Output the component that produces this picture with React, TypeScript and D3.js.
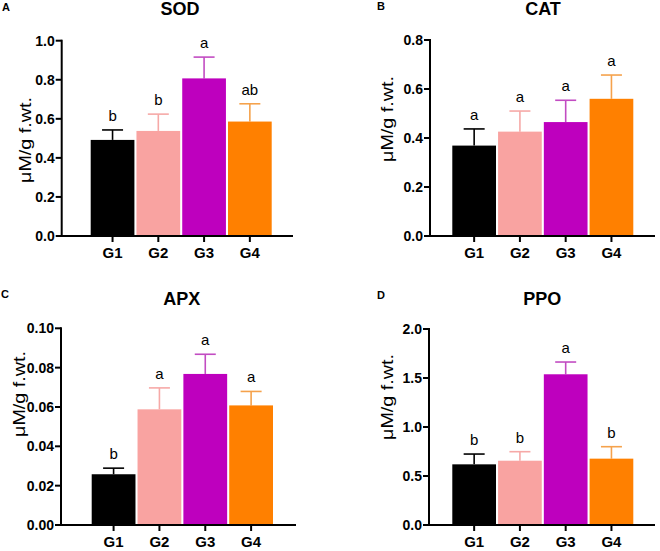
import React from "react";
import * as d3 from "d3";

const groups = ["G1", "G2", "G3", "G4"];
const colors = ["#000000", "#F9A3A1", "#BE00BE", "#FF8000"];
const errColors = ["#000000", "#F6A9A7", "#C24CC2", "#F5A24C"];

const sodMean = [0.492, 0.538, 0.807, 0.586];
const sodErr = [0.543, 0.624, 0.916, 0.677];
const sodLetters = ["b", "b", "a", "ab"];
const sodTicks = [0, 0.2, 0.4, 0.6, 0.8, 1.0];

const catMean = [0.369, 0.426, 0.465, 0.56];
const catErr = [0.437, 0.51, 0.554, 0.657];
const catLetters = ["a", "a", "a", "a"];
const catTicks = [0, 0.2, 0.4, 0.6, 0.8];

const apxMean = [0.0258, 0.0588, 0.0768, 0.0608];
const apxErr = [0.0289, 0.0697, 0.0868, 0.0679];
const apxLetters = ["b", "a", "a", "a"];
const apxTicks = [0, 0.02, 0.04, 0.06, 0.08, 0.1];

const ppoMean = [0.619, 0.656, 1.538, 0.677];
const ppoErr = [0.724, 0.748, 1.663, 0.799];
const ppoLetters = ["b", "b", "a", "b"];
const ppoTicks = [0, 0.5, 1.0, 1.5, 2.0];

const yLabel = "μM/g f.wt.";
const FONT = "'Liberation Sans', Arial, Helvetica, sans-serif";

type PanelProps = {
  tag: string;
  tagX: number;
  tagY: number;
  title: string;
  titleX: number;
  titleY: number;
  axisX: number;
  axisEnd: number;
  y0: number;
  yTop: number;
  max: number;
  ticks: number[];
  fmt: string;
  barRange: [number, number];
  mean: number[];
  err: number[];
  letters: string[];
  labelX: number;
  labelY: number;
};

function Panel(p: PanelProps) {
  const y = d3.scaleLinear().domain([0, p.max]).range([p.y0, p.yTop]);
  const x = d3.scaleBand<string>().domain(groups).range(p.barRange).paddingInner(0.045).paddingOuter(0);
  const f = d3.format(p.fmt);
  const bw = x.bandwidth();
  return (
    <g>
      <text x={p.tagX} y={p.tagY} fontFamily={FONT} fontWeight="bold" fontSize={11}>{p.tag}</text>
      <text x={p.titleX} y={p.titleY} textAnchor="middle" fontFamily={FONT} fontWeight="bold" fontSize={18}>{p.title}</text>
      <text
        transform={`translate(${p.labelX},${p.labelY}) rotate(-90)`}
        textAnchor="middle"
        dominantBaseline="central"
        fontFamily={FONT}
        fontSize={16}
        textLength={86}
        lengthAdjust="spacingAndGlyphs"
      >{yLabel}</text>
      {groups.map((g, i) => (
        <g key={g}>
          <line x1={x(g)! + bw / 2} x2={x(g)! + bw / 2} y1={y(p.mean[i])} y2={y(p.err[i])} stroke={errColors[i]} strokeWidth={1.6} />
          <line x1={x(g)! + bw / 2 - 10.5} x2={x(g)! + bw / 2 + 10.5} y1={y(p.err[i])} y2={y(p.err[i])} stroke={errColors[i]} strokeWidth={1.6} />
          <rect x={x(g)!} y={y(p.mean[i])} width={bw} height={p.y0 - y(p.mean[i])} fill={colors[i]} />
          <text x={x(g)! + bw / 2} y={y(p.err[i]) - 9} textAnchor="middle" fontFamily={FONT} fontSize={15}>{p.letters[i]}</text>
          <line x1={x(g)! + bw / 2} x2={x(g)! + bw / 2} y1={p.y0} y2={p.y0 + 6} stroke="#000" strokeWidth={2} />
          <text x={x(g)! + bw / 2} y={p.y0 + 22} textAnchor="middle" fontFamily={FONT} fontWeight="bold" fontSize={15}>{g}</text>
        </g>
      ))}
      {p.ticks.map((t) => (
        <g key={t}>
          <line x1={p.axisX - 6} x2={p.axisX} y1={y(t)} y2={y(t)} stroke="#000" strokeWidth={2} />
          <text x={p.axisX - 7} y={y(t)} textAnchor="end" dominantBaseline="central" fontFamily={FONT} fontWeight="bold" fontSize={14}>{f(t)}</text>
        </g>
      ))}
      <line x1={p.axisX} x2={p.axisX} y1={p.yTop - 1} y2={p.y0 + 1} stroke="#000" strokeWidth={2} />
      <line x1={p.axisX - 1} x2={p.axisEnd} y1={p.y0} y2={p.y0} stroke="#000" strokeWidth={2} />
    </g>
  );
}

export default function App() {
  return (
    <svg width={660} height={551} style={{ position: "absolute", left: 0, top: 0, background: "#fff" }}>
      <rect width={660} height={551} fill="#fff" />
      <Panel tag="A" tagX={2} tagY={11} title="SOD" titleX={180} titleY={15}
        axisX={61.7} axisEnd={293} y0={236} yTop={40.7} max={1.0} ticks={sodTicks} fmt=".1f"
        barRange={[90.7, 271.7]} mean={sodMean} err={sodErr} letters={sodLetters} labelX={25} labelY={140} />
      <Panel tag="B" tagX={377} tagY={10} title="CAT" titleX={543} titleY={15}
        axisX={430} axisEnd={655} y0={236} yTop={40} max={0.8} ticks={catTicks} fmt=".1f"
        barRange={[452.3, 633.3]} mean={catMean} err={catErr} letters={catLetters} labelX={387.5} labelY={119} />
      <Panel tag="C" tagX={1} tagY={298} title="APX" titleX={181.7} titleY={305}
        axisX={61} axisEnd={296} y0={525} yTop={328.3} max={0.1} ticks={apxTicks} fmt=".2f"
        barRange={[91.7, 273]} mean={apxMean} err={apxErr} letters={apxLetters} labelX={19} labelY={394} />
      <Panel tag="D" tagX={377} tagY={299} title="PPO" titleX={542.3} titleY={305}
        axisX={429} axisEnd={655} y0={525} yTop={329} max={2.0} ticks={ppoTicks} fmt=".1f"
        barRange={[452.3, 633.3]} mean={ppoMean} err={ppoErr} letters={ppoLetters} labelX={387} labelY={397} />
    </svg>
  );
}
